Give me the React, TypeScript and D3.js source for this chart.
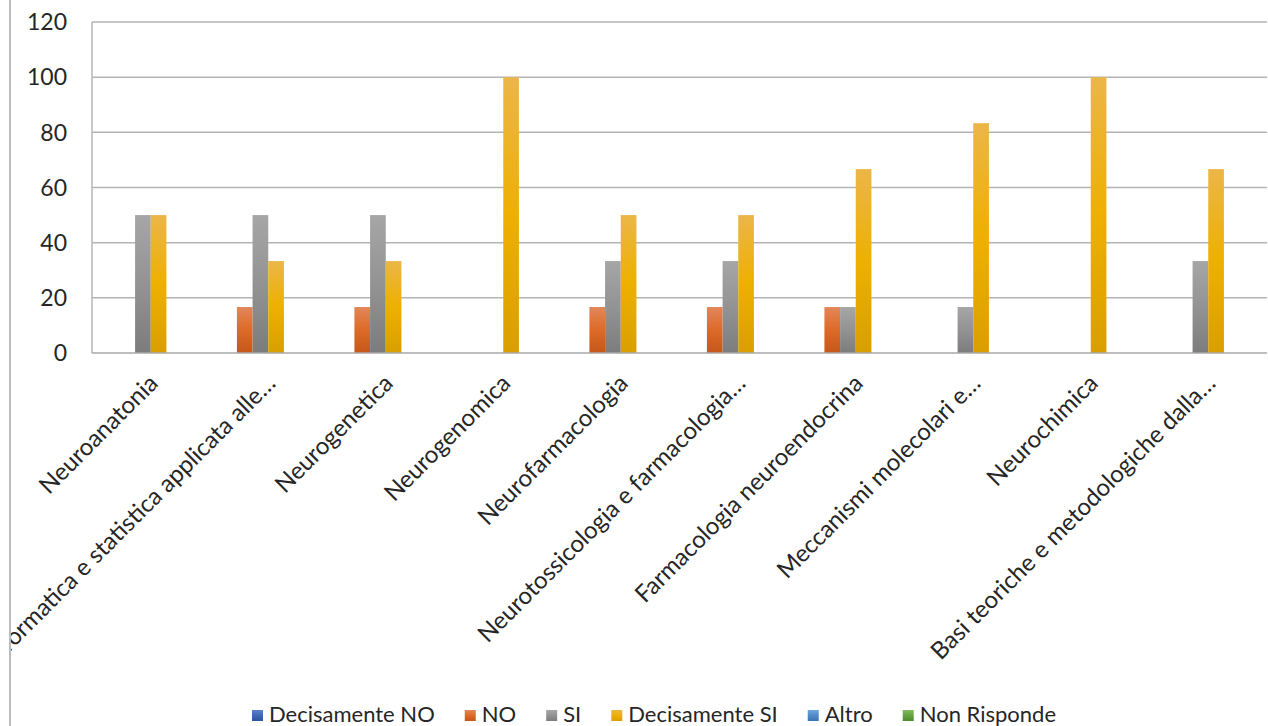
import * as d3 from 'd3';
import { useRef, useEffect } from "react"

// categories (Excel truncates the long ones with an ellipsis)
const categories = [
    "Neuroanatonia",
    "Informatica e statistica applicata alle…",
    "Neurogenetica",
    "Neurogenomica",
    "Neurofarmacologia",
    "Neurotossicologia e farmacologia…",
    "Farmacologia neuroendocrina",
    "Meccanismi molecolari e…",
    "Neurochimica",
    "Basi teoriche e metodologiche dalla…",
]

const seriesNames = ["Decisamente NO", "NO", "SI", "Decisamente SI", "Altro", "Non Risponde"]

const decisamenteNo = [0, 0, 0, 0, 0, 0, 0, 0, 0, 0]
const no = [0, 16.67, 16.67, 0, 16.67, 16.67, 16.67, 0, 0, 0]
const si = [50, 50, 50, 0, 33.33, 33.33, 16.67, 16.67, 0, 33.33]
const decisamenteSi = [50, 33.33, 33.33, 100, 50, 50, 66.67, 83.33, 100, 66.67]
const altro = [0, 0, 0, 0, 0, 0, 0, 0, 0, 0]
const nonRisponde = [0, 0, 0, 0, 0, 0, 0, 0, 0, 0]

const seriesValues = [decisamenteNo, no, si, decisamenteSi, altro, nonRisponde]
const yTicks = [0, 20, 40, 60, 80, 100, 120]

// top / middle / bottom of each bar's gradient
const seriesColors = [
    ["#5d82ca", "#3f68b8", "#2e55a0"],
    ["#e2875a", "#dd6a28", "#c5571a"],
    ["#a6a6a6", "#939393", "#7c7c7c"],
    ["#ebb648", "#eeb000", "#d99f00"],
    ["#70a6db", "#508bca", "#3c75b3"],
    ["#82bb60", "#64a341", "#4e8a30"],
]

const FONT = "Lato, 'Open Sans', sans-serif"
const TEXT = "#262626"

function App() {
    const ref = useRef<SVGSVGElement | null>(null)

    useEffect(() => {
        renderChart();
    }, [])

    function renderChart() {
        const W = 1268, H = 726
        const plot = { left: 92, right: 1267, top: 22, bottom: 353 }

        const svg = d3.select(ref.current!)
        svg.selectAll("*").remove()

        const defs = svg.append("defs")
        defs.append("clipPath").attr("id", "chartClip")
            .append("rect").attr("x", 11).attr("y", 0).attr("width", W - 11).attr("height", H)

        seriesColors.forEach((c, i) => {
            const g = defs.append("linearGradient")
                .attr("id", "grad" + i)
                .attr("x1", 0).attr("y1", 0).attr("x2", 0).attr("y2", 1)
            g.append("stop").attr("offset", "0%").attr("stop-color", c[0])
            g.append("stop").attr("offset", "50%").attr("stop-color", c[1])
            g.append("stop").attr("offset", "100%").attr("stop-color", c[2])
        })

        // chart border (only the left edge is visible in the frame)
        svg.append("line")
            .attr("x1", 10).attr("x2", 10).attr("y1", 0).attr("y2", H)
            .attr("stroke", "#a6a6a6").attr("stroke-width", 1.5)

        const root = svg.append("g").attr("clip-path", "url(#chartClip)")

        // scales
        const x0 = d3.scaleBand<string>()
            .domain(categories)
            .range([plot.left, plot.right])
        const bw = x0.bandwidth()
        const x1 = d3.scaleBand<string>()
            .domain(seriesNames)
            .range([bw * 0.1, bw * 0.9])
        const y = d3.scaleLinear()
            .domain([0, 120])
            .range([plot.bottom, plot.top])

        // gridlines
        root.append("g")
            .selectAll("line")
            .data(yTicks.filter(t => t > 0))
            .enter()
            .append("line")
            .attr("x1", plot.left).attr("x2", plot.right)
            .attr("y1", d => y(d)).attr("y2", d => y(d))
            .attr("stroke", "#b4b4b4").attr("stroke-width", 1.5)

        // plot left edge
        root.append("line")
            .attr("x1", plot.left).attr("x2", plot.left)
            .attr("y1", y(120)).attr("y2", y(0))
            .attr("stroke", "#b4b4b4").attr("stroke-width", 1.5)

        // y tick labels
        root.append("g")
            .selectAll("text")
            .data(yTicks)
            .enter()
            .append("text")
            .attr("x", 67)
            .attr("y", d => y(d))
            .attr("dy", "0.36em")
            .attr("text-anchor", "end")
            .style("font-family", FONT)
            .style("font-size", "23px")
            .style("fill", TEXT)
            .text(d => d)

        // bars
        const groups = root.append("g")
            .selectAll("g")
            .data(categories)
            .enter()
            .append("g")
            .attr("transform", d => "translate(" + x0(d) + ",0)")

        groups.selectAll("rect")
            .data((_, ci) => seriesNames.map((s, si) => ({ s, si, v: seriesValues[si][ci] })).filter(d => d.v > 0))
            .enter()
            .append("rect")
            .attr("x", d => x1(d.s)!)
            .attr("width", x1.bandwidth())
            .attr("y", d => y(d.v))
            .attr("height", d => y(0) - y(d.v))
            .attr("fill", d => "url(#grad" + d.si + ")")

        // category axis line on top of bars
        root.append("line")
            .attr("x1", plot.left).attr("x2", plot.right)
            .attr("y1", y(0)).attr("y2", y(0))
            .attr("stroke", "#a8a8a8").attr("stroke-width", 1.5)

        // category labels, rotated -45
        root.append("g")
            .selectAll("text")
            .data(categories)
            .enter()
            .append("text")
            .attr("transform", d => "translate(" + (x0(d)! + bw / 2 - 4) + "," + (plot.bottom + 19) + ") rotate(-45)")
            .attr("dy", "0.75em")
            .attr("text-anchor", "end")
            .style("font-family", FONT)
            .style("font-size", "24px")
            .style("fill", TEXT)
            .text(d => d)

        // legend
        const legend = root.append("g")
        const items = legend.selectAll("g")
            .data(seriesNames)
            .enter()
            .append("g")
        items.append("rect")
            .attr("width", 11).attr("height", 11)
            .attr("y", -12)
            .attr("fill", (_, i) => "url(#grad" + i + ")")
        const labels = items.append("text")
            .attr("x", 17)
            .attr("y", 0)
            .style("font-family", FONT)
            .style("font-size", "22px")
            .style("fill", TEXT)
            .text(d => d)

        const gap = 30
        let pos = 0
        const offsets: number[] = []
        labels.each(function () {
            offsets.push(pos)
            pos += 17 + (this as SVGTextElement).getComputedTextLength() + gap
        })
        const total = pos - gap
        const startX = 654 - total / 2
        items.attr("transform", (_, i) => "translate(" + (startX + offsets[i]) + ",722)")
    }

    return (
        <svg
            width={1268}
            height={726}
            ref={ref}
            style={{ position: 'absolute', left: 0, top: 0, background: '#fff' }}
        />
    )
}

export default App;
